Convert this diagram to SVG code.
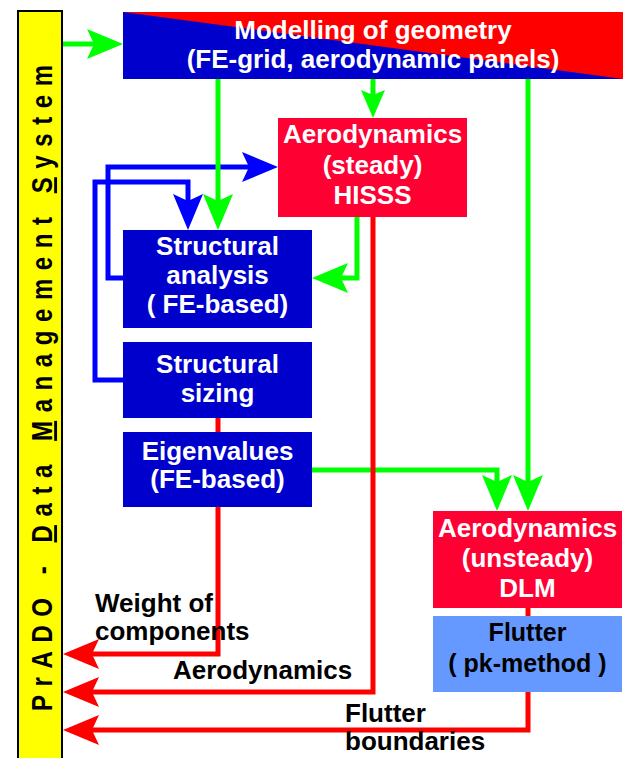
<svg xmlns="http://www.w3.org/2000/svg" width="626" height="758" viewBox="0 0 626 758">
<style>
text{font-family:"Liberation Sans",Arial,sans-serif;font-weight:bold;}
.w{fill:#ffffff;font-size:26px;text-anchor:middle;}
.k{fill:#000000;font-size:26px;}
.kc{fill:#000000;font-size:25px;text-anchor:middle;}
.blue{fill:#0000cc;}
.red{fill:#ff0033;}
.g{fill:none;stroke:#00ff00;stroke-width:5;}
.b{fill:none;stroke:#0000ff;stroke-width:5;}
.r{fill:none;stroke:#ff0000;stroke-width:5;}
</style>
<defs>
<marker id="ag" markerUnits="userSpaceOnUse" viewBox="0 0 36 30" markerWidth="36" markerHeight="30" refX="16" refY="15" orient="auto"><path d="M0,0 L36,15 L0,30 L7,15 z" fill="#00ff00"/></marker>
<marker id="ags" markerUnits="userSpaceOnUse" viewBox="0 0 28 24" markerWidth="28" markerHeight="24" refX="14" refY="12" orient="auto"><path d="M0,0 L28,12 L0,24 L5,12 z" fill="#00ff00"/></marker>
<marker id="ab" markerUnits="userSpaceOnUse" viewBox="0 0 36 30" markerWidth="36" markerHeight="30" refX="16" refY="15" orient="auto"><path d="M0,0 L36,15 L0,30 L7,15 z" fill="#0000ff"/></marker>
<marker id="ar" markerUnits="userSpaceOnUse" viewBox="0 0 36 30" markerWidth="36" markerHeight="30" refX="16" refY="15" orient="auto"><path d="M0,0 L36,15 L0,30 L7,15 z" fill="#ff0000"/></marker>
</defs>
<rect width="626" height="758" fill="#ffffff"/>

<g id="prado">
<rect x="18" y="11" width="44" height="760" fill="#ffff00" stroke="#000000" stroke-width="2"/>
<text transform="translate(52,711) rotate(-90) scale(1,1.2)" font-size="24" fill="#000000" textLength="646" lengthAdjust="spacing">PrADO - <tspan text-decoration="underline">D</tspan>ata <tspan text-decoration="underline">M</tspan>anagement <tspan text-decoration="underline">S</tspan>ystem</text>
</g>

<g id="connectors">
<path class="b" d="M123,278 H108 V167 H258" marker-end="url(#ab)"/>
<path class="b" d="M123,380 H95 V182 H188 V210" marker-end="url(#ab)"/>
<path class="g" d="M63,44 H103" marker-end="url(#ag)"/>
<path class="g" d="M373,79 V104" marker-end="url(#ags)"/>
<path class="g" d="M218,79 V210" marker-end="url(#ag)"/>
<path class="g" d="M528,79 V491" marker-end="url(#ag)"/>
<path class="g" d="M357,217 V278 H332" marker-end="url(#ag)"/>
<path class="g" d="M312,470 H497 V491" marker-end="url(#ag)"/>
<path class="r" d="M218,418 V432"/>
<path class="r" d="M218,507 V654 H83" marker-end="url(#ar)"/>
<path class="r" d="M373,217 V692 H83" marker-end="url(#ar)"/>
<path class="r" d="M528,608 V616"/>
<path class="r" d="M528,692 V730 H83" marker-end="url(#ar)"/>
</g>

<g id="modelling">
<rect x="123" y="12" width="500" height="67" class="blue"/>
<polygon points="123,12 623,12 623,79" fill="#ff0000"/>
<text class="w" x="373" y="39">Modelling of geometry</text>
<text class="w" x="373" y="68">(FE-grid, aerodynamic panels)</text>
</g>

<g id="hisss">
<rect x="278" y="118" width="189" height="99" class="red"/>
<text class="w" x="372.5" y="143">Aerodynamics</text>
<text class="w" x="372.5" y="174">(steady)</text>
<text class="w" x="372.5" y="204">HISSS</text>
</g>

<g id="structural-analysis">
<rect x="123" y="230" width="189" height="98" class="blue"/>
<text class="w" x="217.5" y="255">Structural</text>
<text class="w" x="217.5" y="284">analysis</text>
<text class="w" x="217.5" y="313">( FE-based)</text>
</g>

<g id="structural-sizing">
<rect x="123" y="342" width="189" height="76" class="blue"/>
<text class="w" x="217.5" y="373">Structural</text>
<text class="w" x="217.5" y="402">sizing</text>
</g>

<g id="eigenvalues">
<rect x="123" y="432" width="189" height="75" class="blue"/>
<text class="w" x="217.5" y="460">Eigenvalues</text>
<text class="w" x="217.5" y="488">(FE-based)</text>
</g>

<g id="dlm">
<rect x="433" y="511" width="189" height="97" class="red"/>
<text class="w" x="527.5" y="537">Aerodynamics</text>
<text class="w" x="527.5" y="567">(unsteady)</text>
<text class="w" x="527.5" y="597">DLM</text>
</g>

<g id="flutter">
<rect x="433" y="616" width="189" height="76" fill="#6699ff"/>
<text class="kc" x="527.5" y="641">Flutter</text>
<text class="kc" x="527.5" y="672">( pk-method )</text>
</g>

<g id="labels">
<text class="k" x="95" y="612">Weight of</text>
<text class="k" x="95" y="640">components</text>
<text class="k" x="173" y="679">Aerodynamics</text>
<text class="k" x="345" y="722">Flutter</text>
<text class="k" x="345" y="750">boundaries</text>
</g>
</svg>
